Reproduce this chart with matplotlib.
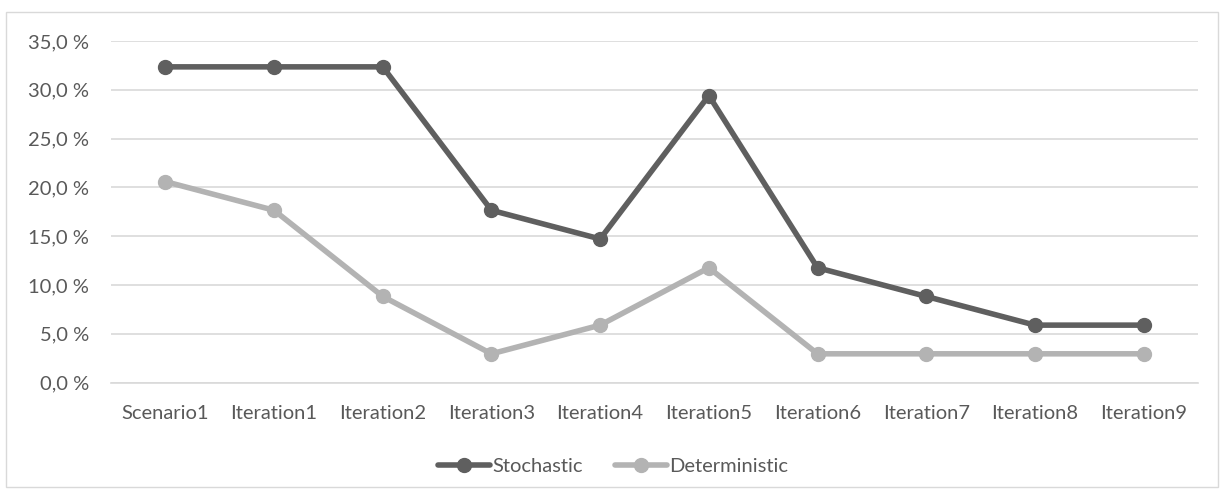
import matplotlib
matplotlib.use("Agg")
import matplotlib.pyplot as plt
from matplotlib.patches import Rectangle
from matplotlib.ticker import FuncFormatter

plt.rcParams['font.family'] = ['Lato', 'DejaVu Sans']

categories = ['Scenario1', 'Iteration1', 'Iteration2', 'Iteration3', 'Iteration4',
              'Iteration5', 'Iteration6', 'Iteration7', 'Iteration8', 'Iteration9']
stochastic = [32.35, 32.35, 32.35, 17.65, 14.71, 29.41, 11.76, 8.82, 5.88, 5.88]
deterministic = [20.59, 17.65, 8.82, 2.94, 5.88, 11.76, 2.94, 2.94, 2.94, 2.94]

textColor = '#595959'
darkGray = '#5f5f5f'
lightGray = '#b3b3b3'
fontSize = 14.5

fig = plt.figure(figsize=(12.26, 4.96), dpi=100)
fig.patches.append(Rectangle((6/1226, 9/496), 1212/1226, 475/496, transform=fig.transFigure,
                             fill=False, edgecolor='#d9d9d9', linewidth=1))
ax = fig.add_axes([111/1226, 1-382.5/496, 1087/1226, 341.5/496])

x = range(len(categories))
ax.plot(x, stochastic, color=darkGray, linewidth=4, marker='o', markersize=10, label='Stochastic',
        solid_capstyle='round', zorder=3)
ax.plot(x, deterministic, color=lightGray, linewidth=4, marker='o', markersize=10, label='Deterministic',
        solid_capstyle='round', zorder=3)

ax.set_xlim(-0.5, len(categories)-0.5)
ax.set_ylim(0, 35)
ax.set_yticks(range(0, 36, 5))
ax.yaxis.set_major_formatter(FuncFormatter(lambda v, p: ('%.1f %%' % v).replace('.', ',')))
ax.set_xticks(list(x))
ax.set_xticklabels(categories)
ax.grid(axis='y', color='#d9d9d9', linewidth=1.2)
ax.set_axisbelow(True)
for s in ['top', 'right', 'left']:
    ax.spines[s].set_visible(False)
ax.spines['bottom'].set_color('#d9d9d9')
ax.spines['bottom'].set_linewidth(1.2)
ax.tick_params(axis='both', length=0, colors=textColor, labelsize=fontSize)
ax.tick_params(axis='x', pad=16)
ax.tick_params(axis='y', pad=16)

fig.legend(loc='center', bbox_to_anchor=(0.5, 1-466/496), ncol=2, frameon=False,
           fontsize=fontSize, labelcolor=textColor, handlelength=2.6, handletextpad=0.1,
           columnspacing=1.6)

fig.savefig('out.png', dpi=100)
